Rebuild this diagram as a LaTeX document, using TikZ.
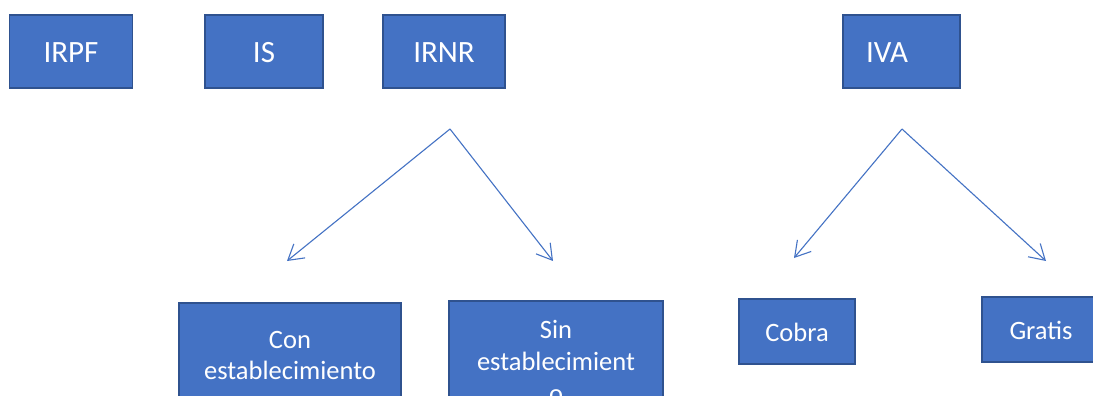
\documentclass[tikz,border=0pt]{standalone}
\usepackage{fontspec}
\setmainfont{Carlito}
\usetikzlibrary{arrows.meta}
\definecolor{boxfill}{HTML}{4472C4}
\definecolor{boxline}{HTML}{2F528F}
\begin{document}
\begin{tikzpicture}[x=1pt,y=-1pt,
  box/.style={draw=boxline,fill=boxfill,line width=1.6pt,rectangle,inner sep=0pt},
  toplbl/.style={text=white,anchor=base,inner sep=0pt,font=\fontsize{31}{37}\selectfont},
  botlbl/.style={text=white,anchor=base,inner sep=0pt,font=\fontsize{26.5}{32}\selectfont},
  conn/.style={draw=boxfill,line width=1.1pt,-{Straight Barb[length=15pt,width=18pt]}}]
\useasboundingbox (0,0) rectangle (1093,396);
\clip (0,0) rectangle (1093,396);
\fill[white] (0,0) rectangle (1093,396);
% top boxes
\node[box,minimum width=123pt,minimum height=73pt] (irpf) at (71,51.5) {};
\node[box,minimum width=118pt,minimum height=73pt] (is) at (264,51.5) {};
\node[box,minimum width=122pt,minimum height=73pt] (irnr) at (444,51.5) {};
\node[box,minimum width=117pt,minimum height=73pt] (iva) at (901.5,51.5) {};
\node[toplbl] (tirpf) at (71,63) {IRPF};
\node[toplbl] (tis) at (264,63) {IS};
\node[toplbl] (tirnr) at (444,63) {IRNR};
\node[toplbl] (tiva) at (887,63) {IVA};
% bottom boxes
\node[box,minimum width=222pt,minimum height=130pt] (con) at (290,368) {};
\node[box,minimum width=214pt,minimum height=130pt] (sin) at (556,366) {};
\node[box,minimum width=116pt,minimum height=65pt] (cobra) at (797,331.5) {};
\node[box,minimum width=118pt,minimum height=65pt] (gratis) at (1041,329.5) {};
\node[botlbl] (tcon1) at (290,348) {Con};
\node[botlbl] (tcon2) at (290,379) {establecimiento};
\node[botlbl] (tsin1) at (556,338) {Sin};
\node[botlbl] (tsin2) at (556,370) {establecimient};
\node[botlbl] (tsin3) at (556,402) {o};
\node[botlbl] (tcobra) at (797,341) {Cobra};
\node[botlbl] (tgratis) at (1041,339) {Gratis};
% arrows
\coordinate (a1) at (450,129);
\coordinate (a1l) at (287,261);
\coordinate (a1r) at (553,261);
\coordinate (a2) at (902,129);
\coordinate (a2l) at (794,258);
\coordinate (a2r) at (1046,261);
\draw[conn] (a1) -- (a1l);
\draw[conn] (a1) -- (a1r);
\draw[conn] (a2) -- (a2l);
\draw[conn] (a2) -- (a2r);
\end{tikzpicture}
\end{document}
